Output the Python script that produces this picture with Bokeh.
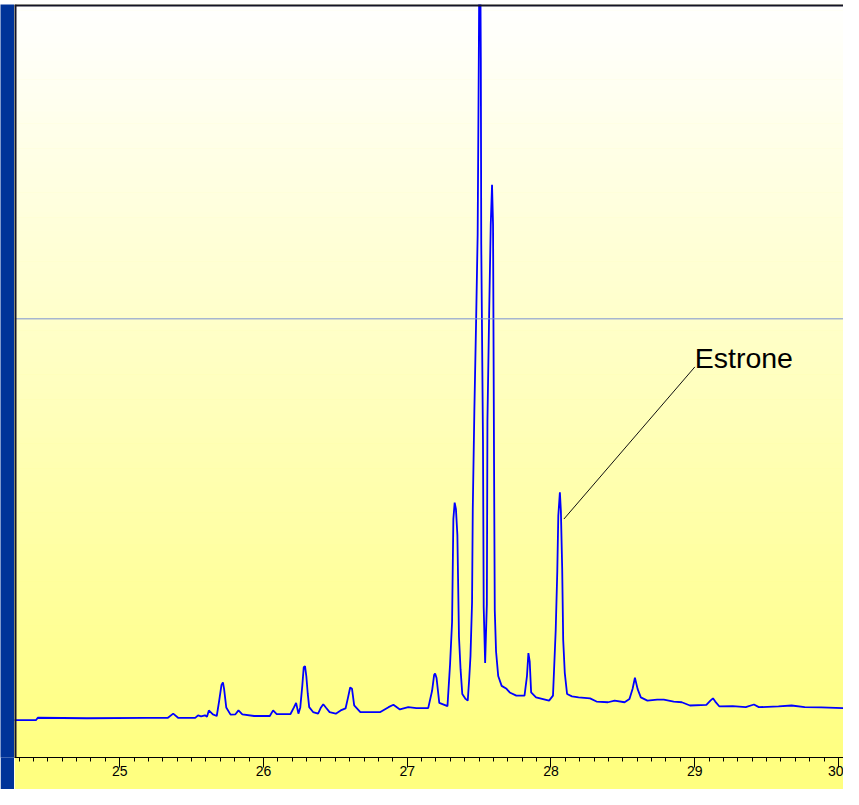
import numpy as np
from bokeh.plotting import figure
from bokeh.models import Range1d, Span, Label, SingleIntervalTicker
from bokeh.layouts import column, row
from bokeh.embed import file_html
from bokeh.resources import INLINE

# ---------------- data ----------------
rt_min = [24.266, 24.417, 24.430, 24.772, 25.183, 25.333, 25.372, 25.408, 25.525, 25.545,
          25.566, 25.593, 25.607, 25.620, 25.648, 25.675, 25.692, 25.708, 25.718, 25.726,
          25.741, 25.771, 25.805, 25.826, 25.853, 25.935, 26.044, 26.067, 26.092, 26.188,
          26.212, 26.227, 26.243, 26.256, 26.270, 26.280, 26.289, 26.298, 26.308, 26.318,
          26.345, 26.380, 26.400, 26.416, 26.434, 26.460, 26.503, 26.537, 26.571, 26.588,
          26.603, 26.616, 26.631, 26.674, 26.813, 26.870, 26.904, 26.949, 27.007, 27.064,
          27.146, 27.173, 27.187, 27.194, 27.204, 27.223, 27.280, 27.298, 27.312, 27.321,
          27.330, 27.339, 27.349, 27.360, 27.371, 27.383, 27.406, 27.421, 27.431, 27.440,
          27.451, 27.456, 27.467, 27.479, 27.490, 27.498, 27.505, 27.512, 27.515, 27.527,
          27.532, 27.542, 27.554, 27.558, 27.570, 27.581, 27.590, 27.597, 27.604, 27.609,
          27.618, 27.633, 27.657, 27.691, 27.713, 27.759, 27.816, 27.833, 27.843, 27.852,
          27.862, 27.896, 27.987, 28.014, 28.033, 28.044, 28.051, 28.062, 28.069, 28.078,
          28.085, 28.096, 28.112, 28.146, 28.192, 28.272, 28.317, 28.397, 28.443, 28.512,
          28.546, 28.568, 28.584, 28.603, 28.625, 28.671, 28.739, 28.785, 28.854, 28.910,
          28.967, 29.081, 29.109, 29.127, 29.143, 29.172, 29.264, 29.355, 29.412, 29.446,
          29.583, 29.674, 29.765, 29.880, 30.032]
signal = [38.0, 38.0, 40.5, 40.0, 40.3, 40.3, 44.7, 40.3, 40.3, 43.0,
          42.0, 43.0, 41.5, 48.0, 44.0, 42.3, 58.0, 74.0, 76.5, 70.0,
          51.0, 43.7, 44.0, 48.0, 44.0, 42.3, 42.3, 48.0, 44.3, 44.3,
          51.0, 55.7, 44.7, 51.0, 73.0, 92.0, 93.0, 83.0, 65.0, 51.3,
          46.3, 44.7, 51.0, 54.3, 51.0, 46.3, 44.7, 48.0, 50.0, 61.0,
          71.3, 70.0, 53.0, 46.3, 46.3, 51.3, 53.7, 49.0, 51.3, 50.3,
          50.3, 68.0, 84.0, 85.7, 81.0, 55.7, 52.3, 95.0, 138.0, 243.0,
          259.7, 253.0, 226.3, 123.0, 90.0, 64.7, 59.7, 58.0, 79.7, 103.0,
          158.0, 253.0, 353.0, 443.0, 533.0, 713.0, 900.0, 713.0, 523.0, 323.0,
          153.0, 96.3, 156.3, 343.0, 453.0, 543.0, 583.7, 543.0, 300.0, 150.0,
          108.0, 83.0, 73.0, 70.0, 66.3, 63.0, 63.0, 83.0, 106.3, 98.0,
          66.3, 61.3, 58.0, 63.0, 130.0, 190.0, 246.3, 270.3, 251.3, 193.0,
          120.0, 86.3, 64.7, 62.3, 61.3, 60.3, 57.0, 56.3, 58.0, 56.3,
          59.7, 70.0, 81.3, 69.7, 61.3, 58.0, 59.0, 59.0, 57.0, 56.3,
          53.0, 53.7, 58.0, 60.3, 57.0, 52.0, 52.3, 51.3, 54.0, 51.3,
          52.0, 53.0, 51.3, 51.0, 50.3]

x_start, x_end = 24.268, 30.035      # visible retention-time window (min)
y_start, y_end = 0.0, 767.3          # visible signal window
tick_interval = 1
minor_per_major = 10
cursor_level = 447.0                 # horizontal cursor line

estrone_text = "Estrone"
estrone_leader_x = [28.090, 29.001]
estrone_leader_y = [243.0, 398.0]
estrone_text_x = 29.0
estrone_text_y = 407.0

BLUE_FRAME = "#003399"
DARK_EDGE = "#141428"
YELLOW = "#FFFF80"

# ---------------- figures ----------------
def blank(w, h):
    f = figure(width=w, height=h, toolbar_location=None, output_backend="svg",
               min_border=0, x_axis_location=None, y_axis_location=None,
               outline_line_color=None, background_fill_color=BLUE_FRAME,
               border_fill_color=BLUE_FRAME)
    f.grid.visible = False
    return f

top_strip = blank(843, 4)
left_strip = blank(14, 785)

p = figure(width=829, height=785, toolbar_location=None, output_backend="svg",
           x_range=Range1d(x_start, x_end), y_range=Range1d(y_start, y_end),
           y_axis_location=None, min_border_left=0, min_border_right=0,
           min_border_top=0, min_border_bottom=32,
           background_fill_color=YELLOW, border_fill_color=YELLOW,
           outline_line_color=None)
p.grid.visible = False

# vertical white -> yellow gradient background
n = 120
edges = np.linspace(y_start, y_end, n + 1)
frac = (np.arange(n) + 0.5) / n
cols = ["#FFFF%02X" % int(round(128 + 127 * f)) for f in frac]
tops = edges[1:] + 0.6
tops[-1] = y_end + 50
p.quad(left=x_start - 0.2, right=x_end + 0.2, bottom=edges[:-1], top=tops,
       fill_color=cols, line_color=None)

# cursor line
p.add_layout(Span(location=cursor_level, dimension="width",
                  line_color="#7b93d2", line_width=1))

# chromatogram trace
p.line(rt_min, signal, line_color="#0000FF", line_width=1.8)

# annotation
p.line(estrone_leader_x, estrone_leader_y, line_color="#101010", line_width=1)
p.add_layout(Label(x=estrone_text_x, y=estrone_text_y, text=estrone_text,
                   text_font="Liberation Sans", text_font_size="28.5px",
                   text_color="#000000", text_baseline="alphabetic",
                   text_align="left"))

# dark edges (left, top) of the plot window
p.add_layout(Span(location=x_start, dimension="height", line_color=DARK_EDGE, line_width=4))
p.add_layout(Span(location=y_end, dimension="width", line_color=DARK_EDGE, line_width=4))

# x axis
ax = p.xaxis[0]
ax.ticker = SingleIntervalTicker(interval=tick_interval, num_minor_ticks=minor_per_major)
ax.axis_line_color = "#000000"
ax.axis_line_width = 1
ax.major_tick_in = 0
ax.major_tick_out = 10
ax.minor_tick_in = 0
ax.minor_tick_out = 4
ax.major_tick_line_color = "#000000"
ax.minor_tick_line_color = "#000000"
ax.major_label_text_font = "Liberation Sans"
ax.major_label_text_font_size = "14px"
ax.major_label_text_color = "#000000"
ax.major_label_standoff = -2

layout = column(top_strip, row(left_strip, p, spacing=0), spacing=0)

open("out.html", "w").write(file_html(layout, INLINE))
